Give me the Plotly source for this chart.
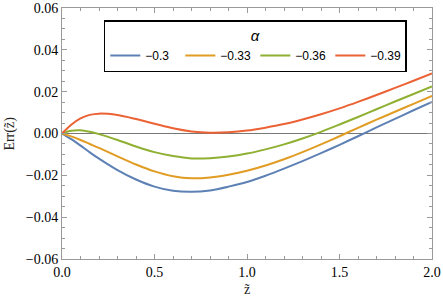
import plotly.graph_objects as go

z = [0.0, 0.05, 0.1, 0.15, 0.2, 0.3, 0.4, 0.5, 0.6, 0.7, 0.8, 0.9, 1.0,
     1.1, 1.2, 1.3, 1.4, 1.5, 1.6, 1.7, 1.8, 1.9, 2.0]

alpha_labels = ["\u22120.3", "\u22120.33", "\u22120.36", "\u22120.39"]

err_a030 = [0.0, -0.0027, -0.0058, -0.0090, -0.0120, -0.0175, -0.0220, -0.0254,
            -0.0274, -0.0279, -0.0272, -0.0254, -0.0232, -0.0202, -0.0168,
            -0.0132, -0.0094, -0.0054, -0.0013, 0.0029, 0.0070, 0.0111, 0.0151]
err_a033 = [0.0, -0.0014, -0.0031, -0.0050, -0.0069, -0.0109, -0.0148, -0.0181,
            -0.0204, -0.0214, -0.0210, -0.0197, -0.0178, -0.0153, -0.0123,
            -0.0089, -0.0052, -0.0013, 0.0027, 0.0066, 0.0104, 0.0142, 0.0180]
err_a036 = [0.0, 0.0013, 0.0015, 0.0008, -0.0003, -0.0031, -0.0062, -0.0089,
            -0.0108, -0.0119, -0.0118, -0.0110, -0.0096, -0.0076, -0.0052,
            -0.0024, 0.0008, 0.0043, 0.0079, 0.0116, 0.0153, 0.0189, 0.0225]
err_a039 = [0.0, 0.0042, 0.0072, 0.0089, 0.0095, 0.0088, 0.0069, 0.0047,
            0.0025, 0.0010, 0.0004, 0.0006, 0.0014, 0.0028, 0.0045, 0.0067,
            0.0092, 0.0120, 0.0151, 0.0184, 0.0218, 0.0252, 0.0287]

series = [err_a030, err_a033, err_a036, err_a039]
colors = ["#5E81B5", "#E19C24", "#8FB032", "#EB6235"]

fig = go.Figure()
for lab, ys, c in zip(alpha_labels, series, colors):
    fig.add_trace(go.Scatter(x=z, y=ys, mode="lines", name=lab,
                             line=dict(color=c, width=2, shape="spline", smoothing=0.8)))

serif = "Liberation Serif"
sans = "Liberation Sans"
frame = "#9a9a9a"

axis_common = dict(
    showline=True, linecolor=frame, linewidth=1, mirror="allticks",
    ticks="inside", ticklen=5, tickcolor=frame, tickwidth=1,
    showgrid=False, automargin=False,
    tickfont=dict(family=serif, size=14, color="black"),
)

fig.update_xaxes(range=[0, 2], dtick=0.5, tickformat=".1f",
                 minor=dict(dtick=0.1, ticks="inside", ticklen=3, tickcolor=frame, showgrid=False),
                 zeroline=False, **axis_common)
fig.update_yaxes(range=[-0.06, 0.06], dtick=0.02, tickformat=".2f",
                 minor=dict(dtick=0.005, ticks="inside", ticklen=3, tickcolor=frame, showgrid=False),
                 zeroline=True, zerolinecolor="#777777", zerolinewidth=1, **axis_common)

title_font = dict(family=serif, size=14, color="#222222")
fig.add_annotation(text="z\u0303", xref="paper", yref="paper", x=0.5, y=-0.12,
                   xanchor="center", yanchor="middle", showarrow=False, font=title_font)
fig.add_annotation(text="Err(z\u0303)", xref="paper", yref="paper", x=-0.143, y=0.5,
                   xanchor="center", yanchor="middle", showarrow=False, textangle=-90,
                   font=title_font)

fig.update_layout(
    width=443, height=305,
    margin=dict(l=62, r=11, t=8, b=46),
    paper_bgcolor="white", plot_bgcolor="white",
    legend=dict(
        orientation="h", x=0.113, y=0.952, xanchor="left", yanchor="top",
        bordercolor="black", borderwidth=1.5, bgcolor="white",
        font=dict(family=sans, size=12, color="black"),
        title=dict(text="<i>\u03b1</i>", side="top center",
                   font=dict(family=sans, size=15, color="black")),
        itemwidth=30, tracegroupgap=0, entrywidth=30, entrywidthmode="pixels",
    ),
)

fig.write_html("out.html", config={"displayModeBar": False},
               post_script="document.body.style.margin='0';document.body.style.padding='0';")
